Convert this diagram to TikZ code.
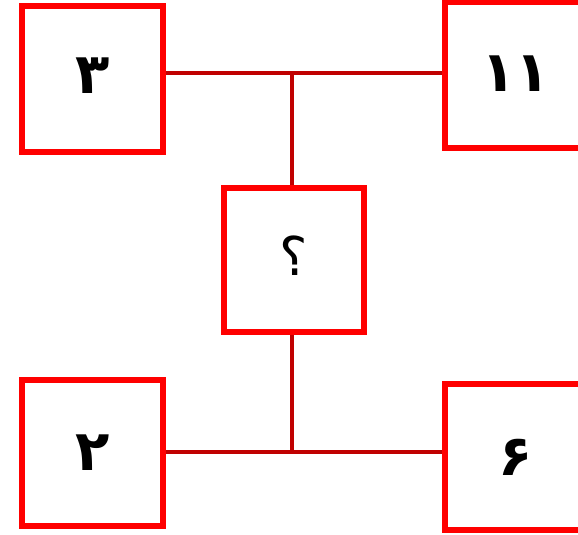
\documentclass[tikz,border=0pt]{standalone}
\usepackage{fontspec}
\usepackage{tikz}
\usetikzlibrary{positioning}
\newfontfamily\arabicfont[Script=Arabic]{DejaVu Sans}
\TeXXeTstate=1
\definecolor{boxRed}{RGB}{255, 0, 0}
\definecolor{linkRed}{RGB}{192, 0, 0}

\begin{document}
\begin{tikzpicture}[
        numbox/.style={rectangle, draw=boxRed, line width=0.135cm, minimum width=3.525cm, minimum height=3.65cm, inner sep=0pt, font=\arabicfont\bfseries\fontsize{40}{46}\selectfont},
        link/.style={draw=linkRed, line width=0.12cm}]
    \useasboundingbox (0,0) rectangle (14.45,-13.35);

    \node[numbox] (tl) at (2.3125,-1.975) {\raisebox{0.15cm}{\beginR ۳\endR}};
    \node[numbox] (tr) at (12.8875,-1.875) {\raisebox{0.05cm}{\beginR ۱۱\endR}};
    \node[numbox, minimum width=3.5cm, minimum height=3.6cm, font=\arabicfont\fontsize{38}{44}\selectfont] (mid) at (7.35,-6.5) {\raisebox{0.2cm}{\beginR ؟\endR}};
    \node[numbox] (bl) at (2.3125,-11.325) {\beginR ۲\endR};
    \node[numbox] (br) at (12.8875,-11.425) {\beginR ۶\endR};

    \coordinate (jt) at (7.3,-1.825);
    \coordinate (jb) at (7.3,-11.3);

    \draw[link] (tl.east |- jt) -- (tr.west |- jt);
    \draw[link] (jt) -- (jt |- mid.north);
    \draw[link] (bl.east |- jb) -- (br.west |- jb);
    \draw[link] (jb) -- (jb |- mid.south);
\end{tikzpicture}
\end{document}
